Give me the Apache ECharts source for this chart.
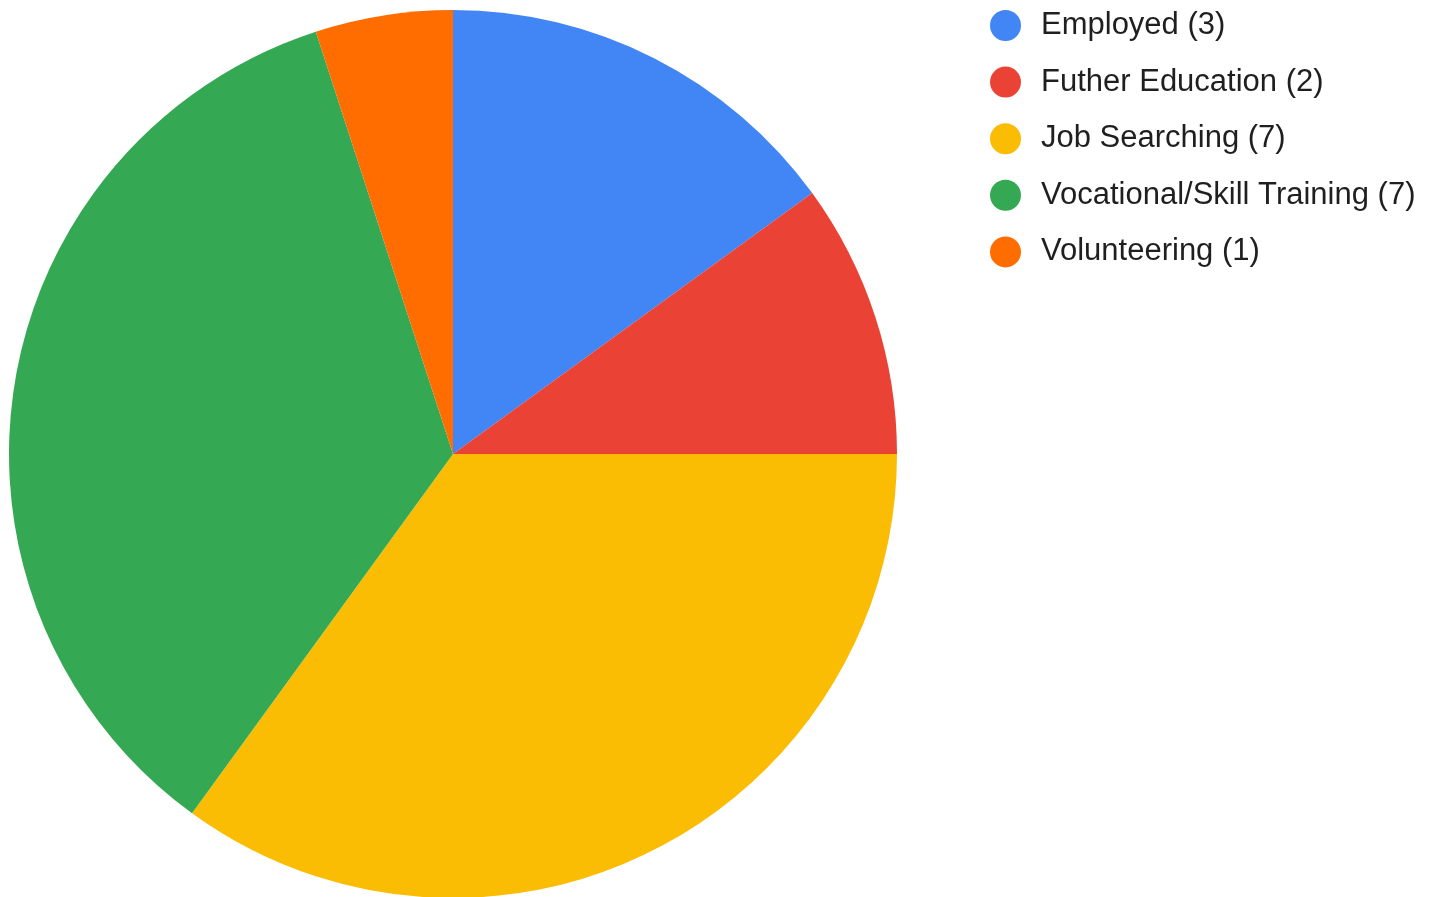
<!DOCTYPE html>
<html>
<head>
<meta charset="utf-8">
<script src="https://cdn.jsdelivr.net/npm/echarts@6/dist/echarts.min.js"></script>
<style>
  html, body { margin: 0; padding: 0; background: #ffffff; }
  #chart { width: 1430px; height: 897px; }
</style>
</head>
<body>
<div id="chart"></div>
<script>
// Outcome categories and their counts
const categories = ['Employed', 'Futher Education', 'Job Searching', 'Vocational/Skill Training', 'Volunteering'];
const counts = [3, 2, 7, 7, 1];
const colors = ['#4285F4', '#EA4335', '#FBBC04', '#34A853', '#FF6D01'];

const chart = echarts.init(document.getElementById('chart'), null, { renderer: 'canvas' });

const pieData = categories.map((name, i) => ({
  name: name,
  value: counts[i],
  itemStyle: { color: colors[i] }
}));

chart.setOption({
  animation: false,
  backgroundColor: '#ffffff',
  legend: {
    orient: 'vertical',
    left: 990,
    top: 9,
    padding: 0,
    icon: 'circle',
    itemWidth: 31,
    itemHeight: 31,
    itemGap: 23.6,
    selectedMode: false,
    formatter: function (name) {
      const i = categories.indexOf(name);
      return name + ' (' + counts[i] + ')';
    },
    textStyle: {
      fontFamily: '"Liberation Sans", Arial, sans-serif',
      fontSize: 31,
      color: '#1f1f1f',
      lineHeight: 31,
      padding: [2, 0, 0, 15]
    },
    data: categories
  },
  series: [{
    type: 'pie',
    center: [453, 454],
    radius: 444,
    startAngle: 90,
    clockwise: true,
    label: { show: false },
    labelLine: { show: false },
    itemStyle: { borderWidth: 0 },
    emphasis: { disabled: true },
    data: pieData
  }]
});
</script>
</body>
</html>
